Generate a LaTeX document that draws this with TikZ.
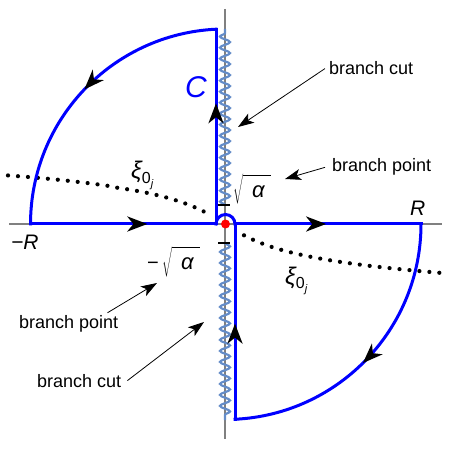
\documentclass[tikz,border=0pt]{standalone}
\usepackage{fontspec}
\setmainfont{Liberation Sans}
\usetikzlibrary{arrows.meta,decorations.markings,decorations.pathmorphing}
\definecolor{cutblue}{RGB}{100,140,200}
\definecolor{axisgray}{RGB}{128,128,128}
\newcommand\xilabel{{\fontsize{24}{24}\selectfont\itshape ξ}\raisebox{-5pt}{\fontsize{16}{16}\selectfont 0\raisebox{-4pt}{\fontsize{11}{11}\selectfont\itshape j}}}
\newcommand\sqrtalpha{$\sqrt{\rule[-5pt]{0pt}{25pt}\hbox{\hspace{9pt}\fontsize{22}{22}\selectfont\itshape α\hspace{6pt}}}$}
\begin{document}
\begin{tikzpicture}[x=1pt,y=-1pt,
  contourline/.style={blue, line width=3pt, line cap=rect},
  midarrow/.style={postaction={decorate,decoration={markings,mark=at position #1 with {\arrow{Stealth[length=20pt,width=15pt,inset=6pt,color=black]}}}}},
  axisline/.style={axisgray, line width=1.5pt},
  cutwave/.style={cutblue, line width=2.2pt, decorate, decoration={snake, amplitude=5pt, segment length=11pt}},
  tickmark/.style={black, line width=2pt},
  lbl/.style={font=\fontsize{18}{20}\selectfont, inner sep=2pt},
  mathlbl/.style={font=\fontsize{21}{24}\selectfont\itshape, inner sep=0pt},
  pointer/.style={black, line width=0.8pt, -{Stealth[length=16pt,width=11pt,inset=4pt]}},
  dotcurve/.style={black, line width=4.2pt, line cap=round, dash pattern=on 0pt off 10pt},
]
\path[use as bounding box] (0,0) rectangle (450,449);
% axes
\coordinate (xl) at (9,224); \coordinate (xr) at (442,224);
\coordinate (yt) at (225,9); \coordinate (yb) at (225,439);
\draw[axisline] (xl) -- (xr);
\draw[axisline] (yt) -- (yb);
% dotted curve
\draw[dotcurve] plot[domain=-217:-20, samples=80] ({225+\x},{224+17.85*ln(\x/28+sqrt((\x/28)^2+1))});
\draw[dotcurve] plot[domain=19:220, samples=80] ({225+\x},{224+17.85*ln(\x/28+sqrt((\x/28)^2+1))});
% branch cuts
\coordinate (bpup) at (225,205); \coordinate (bpdn) at (225,243);
\coordinate (cuttop) at (225,29); \coordinate (cutbot) at (225,420);
\draw[cutwave] (bpup) -- (cuttop);
\draw[cutwave] (bpdn) -- (cutbot);
\draw[tickmark] (218,205) -- (230,205);
\draw[tickmark] (218,243) -- (230,243);
% contour
\coordinate (mR) at (30.5,224); \coordinate (cl) at (216,224);
\coordinate (cr) at (235,224); \coordinate (pR) at (421,224);
\coordinate (ctop) at (216,29.2); \coordinate (cbot) at (235,419.3);
\draw[contourline, midarrow=0.63] (mR) -- (cl);
\draw[contourline, midarrow=0.62] (cl) -- (ctop);
\draw[contourline, midarrow=0.5] (ctop) arc[start angle=-92.8, end angle=-180, radius=195];
\draw[contourline] (cl) arc[start angle=-180, end angle=0, radius=9.5];
\draw[contourline, midarrow=0.49] (cr) -- (pR);
\draw[contourline, midarrow=0.52] (pR) arc[start angle=0, end angle=87.2, radius=195.5];
\draw[contourline, midarrow=0.49] (cbot) -- (cr);
\node[circle, fill=red, inner sep=0pt, minimum size=9pt] (org) at (225.5,224) {};
% labels
\node[lbl, anchor=base west] (lbcut1) at (327,75) {branch cut};
\coordinate (bcut1tip) at (238,127);
\draw[pointer] ([xshift=-2pt]lbcut1.west) -- (bcut1tip);
\node[lbl, anchor=base west] (lbpt1) at (330,172) {branch point};
\coordinate (bpt1tip) at (285,179);
\draw[pointer] ([xshift=-5pt]lbpt1.west) -- (bpt1tip);
\node[lbl, anchor=base west] (lbpt2) at (17,328) {branch point};
\coordinate (bpt2tip) at (157,283);
\draw[pointer] ([xshift=-13pt]lbpt2.north east) -- (bpt2tip);
\node[lbl, anchor=base west] (lbcut2) at (35,387) {branch cut};
\coordinate (bcut2tip) at (204,322);
\draw[pointer] ([xshift=4pt]lbcut2.east) -- (bcut2tip);
% math labels
\node[mathlbl, anchor=base west] (mRl) at (11,250) {−R};
\node[mathlbl, anchor=base west] (pRl) at (410,216) {R};
\node[anchor=base west, inner sep=0pt, font=\fontsize{30}{32}\selectfont\itshape, text=blue] (Cl) at (185,98) {C};
\node[anchor=base west, inner sep=0pt] (xi1) at (131,179) {\xilabel};
\node[anchor=base west, inner sep=0pt] (xi2) at (285,284) {\xilabel};
\node[anchor=north west, inner sep=0pt, font=\fontsize{20}{22}\selectfont] (sqp) at (233,174) {\sqrtalpha};
\node[anchor=north west, inner sep=0pt, font=\fontsize{20}{22}\selectfont] (sqm) at (147,246) {−\,\sqrtalpha};
\end{tikzpicture}
\end{document}
